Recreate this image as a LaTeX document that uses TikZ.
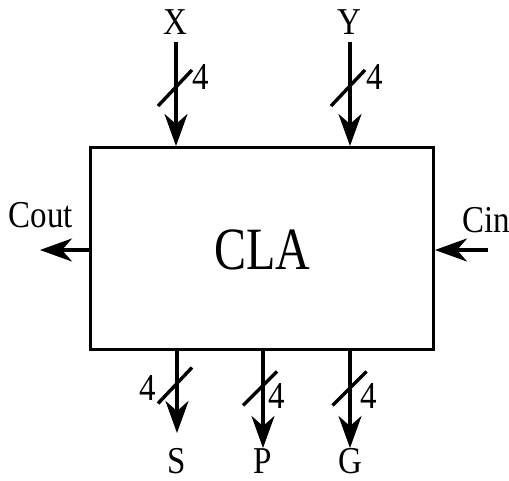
\documentclass[tikz,border=0pt]{standalone}
\usepackage{fontspec}
\setmainfont{Liberation Serif}
\usetikzlibrary{arrows.meta,calc}
\newcommand{\tallt}[1]{\scalebox{1}[1.15]{#1}}
\begin{document}
\begin{tikzpicture}[x=1pt,y=-1pt,line width=3.4pt,
  sig/.style={-{Stealth[length=32pt,width=23pt,inset=10pt]}},
  lbl/.style={font=\fontsize{33}{33}\selectfont,inner sep=0pt,anchor=base},
  slash/.style={line width=3.4pt}]
\useasboundingbox (0,0) rectangle (509,481);
\node[draw,line width=3pt,minimum width=343.5pt,minimum height=202pt,inner sep=0pt] (cla) at (261.75,248.5) {};
\node[inner sep=0pt,anchor=base] (clat) at (262,270) {\scalebox{1}[1.25]{\fontsize{48}{48}\selectfont CLA}};
% top inputs
\node[lbl] (X) at (175,35) {\tallt{X}};
\node[lbl] (Y) at (349,35) {\tallt{Y}};
\coordinate (xs) at (176,42);
\coordinate (ys) at (350,42);
\draw[sig] (xs) -- (xs |- cla.north);
\draw[sig] (ys) -- (ys |- cla.north);
\coordinate (xsl) at (175,88);
\coordinate (ysl) at (348,88);
\draw[slash] ($(xsl)+(-17,18)$) -- ($(xsl)+(17,-18)$);
\draw[slash] ($(ysl)+(-17,18)$) -- ($(ysl)+(17,-18)$);
\node[lbl] (x4) at (201,90) {\tallt{4}};
\node[lbl] (y4) at (375,90) {\tallt{4}};
% carries
\coordinate (coutend) at (40,250);
\coordinate (cinstart) at (488,250);
\draw[sig] (cla.west |- coutend) -- (coutend);
\draw[sig] (cinstart) -- (cla.east |- cinstart);
\node[lbl] (cout) at (41,228) {\tallt{Cout}};
\node[lbl] (cin) at (486,233) {\tallt{Cin}};
% bottom outputs
\coordinate (se) at (177,433);
\coordinate (pe) at (263,448);
\coordinate (ge) at (350,448);
\draw[sig] (se |- cla.south) -- (se);
\draw[sig] (pe |- cla.south) -- (pe);
\draw[sig] (ge |- cla.south) -- (ge);
\coordinate (ssl) at (175,385.5);
\coordinate (psl) at (260,388.5);
\coordinate (gsl) at (349.5,388.5);
\draw[slash] ($(ssl)+(-17,18)$) -- ($(ssl)+(17,-18)$);
\draw[slash] ($(psl)+(-17,17)$) -- ($(psl)+(17,-17)$);
\draw[slash] ($(gsl)+(-17,17)$) -- ($(gsl)+(17,-17)$);
\node[lbl] (s4) at (148,400) {\tallt{4}};
\node[lbl] (p4) at (277,408) {\tallt{4}};
\node[lbl] (g4) at (369,408) {\tallt{4}};
\node[lbl] (S) at (177,473) {\tallt{S}};
\node[lbl] (P) at (263,473) {\tallt{P}};
\node[lbl] (G) at (350,473) {\tallt{G}};
\end{tikzpicture}
\end{document}
